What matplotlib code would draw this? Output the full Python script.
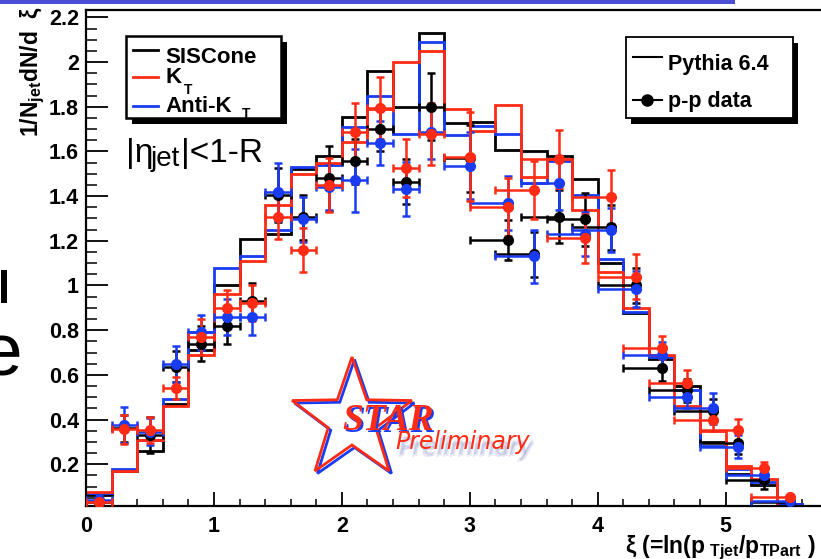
import numpy as np
import matplotlib
matplotlib.use("Agg")
import matplotlib.pyplot as plt
from matplotlib.patches import Rectangle, Polygon
from matplotlib.lines import Line2D
from matplotlib.ticker import MultipleLocator, FixedLocator

# ROOT-like look: bold Helvetica-ish everywhere
plt.rcParams['font.family'] = ['Liberation Sans', 'DejaVu Sans']
plt.rcParams['font.weight'] = 'bold'
plt.rcParams['mathtext.fontset'] = 'custom'
plt.rcParams['mathtext.rm'] = 'Liberation Sans:bold'
plt.rcParams['mathtext.it'] = 'Liberation Sans:bold'
plt.rcParams['mathtext.bf'] = 'Liberation Sans:bold'

W, H = 821, 559
RED = '#ff2b14'
BLUE = '#1a3cf0'

# Pythia histograms, bin width 0.2
BIN_EDGES = [0.0, 0.2, 0.4, 0.6, 0.8, 1.0, 1.2, 1.4, 1.6, 1.8, 2.0, 2.2, 2.4, 2.6, 2.8,
             3.0, 3.2, 3.4, 3.6, 3.8, 4.0, 4.2, 4.4, 4.6, 4.8, 5.0, 5.2, 5.4, 5.6, 5.8]
PYTHIA_SISCONE = [0.06, 0.17, 0.26, 0.47, 0.71, 1.00, 1.21, 1.23, 1.52, 1.58, 1.755, 1.96, 1.80, 2.13, 1.725,
                  1.73, 1.605, 1.60, 1.58, 1.476, 1.10, 0.878, 0.67, 0.55, 0.30, 0.155, 0.107, 0.02, 0.01]
PYTHIA_KT = [0.077, 0.17, 0.31, 0.46, 0.69, 0.96, 1.11, 1.36, 1.50, 1.55, 1.64, 1.79, 2.00, 2.05, 1.79,
             1.69, 1.81, 1.485, 1.565, 1.34, 1.06, 0.90, 0.69, 0.46, 0.35, 0.19, 0.133, 0.015, 0.01]
PYTHIA_AKT = [0.07, 0.18, 0.31, 0.49, 0.79, 1.08, 1.13, 1.25, 1.53, 1.54, 1.71, 1.85, 1.68, 2.09, 1.675,
              1.715, 1.68, 1.46, 1.557, 1.405, 1.117, 0.883, 0.68, 0.53, 0.28, 0.18, 0.12, 0.02, 0.015]

# p-p data points
PT_X = [0.1, 0.3, 0.5, 0.7, 0.9, 1.1, 1.3, 1.5, 1.7, 1.9, 2.1, 2.3, 2.5, 2.7,
        3.0, 3.3, 3.5, 3.7, 3.9, 4.1, 4.3, 4.5, 4.7, 4.9, 5.1, 5.3, 5.5]
PT_XLO = [0.1] * 14 + [0.2] + [0.3] * 12
PT_XHI = [0.1] * 14 + [0.0] * 13

DATA_SISCONE = [0.03, 0.36, 0.33, 0.637, 0.74, 0.82, 0.93, 1.405, 1.305, 1.48, 1.556, 1.70, 1.465, 1.80,
                1.57, 1.205, 1.14, 1.308, 1.296, 1.26, 1.00, 0.632, 0.53, 0.44, 0.294, 0.13, 0.03]
ERR_SISCONE = [0.02, 0.06, 0.08, 0.07, 0.08, 0.08, 0.08, 0.12, 0.10, 0.145, 0.10, 0.10, 0.10, 0.15,
               0.15, 0.09, 0.10, 0.12, 0.12, 0.10, 0.08, 0.06, 0.05, 0.05, 0.05, 0.04, 0.01]
DATA_KT = [0.03, 0.357, 0.353, 0.54, 0.77, 0.898, 0.92, 1.308, 1.159, 1.45, 1.687, 1.794, 1.526, 1.678,
           1.576, 1.352, 1.427, 1.566, 1.211, 1.395, 1.039, 0.722, 0.562, 0.398, 0.353, 0.182, 0.052]
ERR_KT = [0.02, 0.065, 0.06, 0.05, 0.08, 0.08, 0.08, 0.10, 0.10, 0.12, 0.13, 0.14, 0.13, 0.14,
          0.20, 0.13, 0.13, 0.13, 0.11, 0.12, 0.10, 0.05, 0.06, 0.05, 0.05, 0.03, 0.01]
DATA_AKT = [0.04, 0.376, 0.345, 0.649, 0.79, 0.858, 0.858, 1.42, 1.296, 1.44, 1.471, 1.638, 1.432, 1.688,
            1.536, 1.368, 1.13, 1.46, 1.23, 1.248, 0.983, 0.689, 0.502, 0.45, 0.279, 0.152, 0.037]
ERR_AKT = [0.02, 0.08, 0.06, 0.08, 0.08, 0.08, 0.08, 0.13, 0.10, 0.10, 0.14, 0.10, 0.12, 0.12,
           0.15, 0.12, 0.12, 0.12, 0.10, 0.10, 0.08, 0.06, 0.05, 0.07, 0.05, 0.04, 0.01]

Y_TICKS = [0.2, 0.4, 0.6, 0.8, 1.0, 1.2, 1.4, 1.6, 1.8, 2.0, 2.2]
Y_TICK_LABELS = ['0.2', '0.4', '0.6', '0.8', '1', '1.2', '1.4', '1.6', '1.8', '2', '2.2']
X_TICKS = [0, 1, 2, 3, 4, 5]


# pixel (from top-left) -> figure fraction
def fxy(px, py):
    return px / W, 1 - py / H


fig = plt.figure(figsize=(W / 100, H / 100), dpi=100)
ax = fig.add_axes([86 / W, 1 - 506 / H, (828 - 86) / W, (506 - 10) / H])
ax.set_xlim(0, 5.8)
ax.set_ylim(0.013, 2.233)

# histograms
for vals, col in [(PYTHIA_SISCONE, 'black'), (PYTHIA_AKT, BLUE), (PYTHIA_KT, RED)]:
    ax.stairs(vals, BIN_EDGES, baseline=None, color=col, lw=2.0, zorder=2)

# data points
for vals, errs, col in [(DATA_SISCONE, ERR_SISCONE, 'black'), (DATA_AKT, ERR_AKT, BLUE), (DATA_KT, ERR_KT, RED)]:
    ax.errorbar(PT_X, vals, xerr=[PT_XLO, PT_XHI], yerr=errs, fmt='o', color=col, ms=7,
                elinewidth=1.8, capsize=3, capthick=1.8, zorder=3)

# axes styling
for s in ['left', 'bottom', 'top']:
    ax.spines[s].set_linewidth(1.6)
ax.spines['right'].set_visible(False)
ax.yaxis.set_major_locator(FixedLocator(Y_TICKS))
ax.set_yticklabels(Y_TICK_LABELS)
ax.yaxis.set_minor_locator(MultipleLocator(0.05))
ax.xaxis.set_major_locator(FixedLocator(X_TICKS))
ax.xaxis.set_minor_locator(MultipleLocator(0.2))
ax.tick_params(axis='y', which='major', direction='in', length=16, width=1.3, pad=5, labelsize=15.5)
ax.tick_params(axis='y', which='minor', direction='in', length=8, width=1.1)
ax.tick_params(axis='x', which='major', direction='in', length=10, width=1.3, pad=7, labelsize=15.5)
ax.tick_params(axis='x', which='minor', direction='in', length=5, width=1.1)
for lab in ax.get_xticklabels() + ax.get_yticklabels():
    lab.set_fontweight('bold')

# axis titles
fig.text(*fxy(33, 6), '1/N$_{\\rm jet}$dN/d  \u03be', rotation=90, ha='center', va='top', fontsize=16.5)
fig.text(*fxy(816, 548), '\u03be (=ln(p$_{\\rm\\ Tjet}$/p$_{\\rm TPart}$ )', ha='right', va='center',
         fontsize=16.5)

# legend 1 (jet algorithms)
fig.patches.append(Rectangle(fxy(132, 124), 155 / W, 82 / H, transform=fig.transFigure,
                             facecolor='black', edgecolor='none', zorder=5))
fig.patches.append(Rectangle(fxy(126, 118), 155 / W, 82 / H, transform=fig.transFigure,
                             facecolor='white', edgecolor='black', lw=1.8, zorder=6))
for py, col in [(50, 'black'), (77, RED), (106, BLUE)]:
    fig.lines.append(Line2D([133 / W, 158 / W], [1 - py / H] * 2, transform=fig.transFigure,
                            color=col, lw=2, zorder=7))
fig.text(*fxy(165, 63), 'SISCone', ha='left', va='baseline', fontsize=16, zorder=7)
fig.text(*fxy(165, 83), 'K', ha='left', va='baseline', fontsize=16, zorder=7)
fig.text(*fxy(184, 94), 'T', ha='left', va='baseline', fontsize=10, zorder=7)
fig.text(*fxy(165, 112), 'Anti-K', ha='left', va='baseline', fontsize=16, zorder=7)
fig.text(*fxy(246, 118), 'T', ha='center', va='baseline', fontsize=10, zorder=7)

# legend 2 (MC / data)
fig.patches.append(Rectangle(fxy(631, 124), 167 / W, 81 / H, transform=fig.transFigure,
                             facecolor='black', edgecolor='none', zorder=5))
fig.patches.append(Rectangle(fxy(626, 118), 167 / W, 81 / H, transform=fig.transFigure,
                             facecolor='white', edgecolor='black', lw=1.3, zorder=6))
fig.lines.append(Line2D([633 / W, 662 / W], [1 - 57 / H] * 2, transform=fig.transFigure,
                        color='black', lw=1.5, zorder=7))
fig.lines.append(Line2D([633 / W, 662 / W], [1 - 100 / H] * 2, transform=fig.transFigure,
                        color='black', lw=1.5, zorder=7))
fig.lines.append(Line2D([647 / W], [1 - 100 / H], transform=fig.transFigure, marker='o',
                        ms=8, color='black', zorder=7))
fig.text(*fxy(668, 70), 'Pythia 6.4', ha='left', va='baseline', fontsize=15.5, zorder=7)
fig.text(*fxy(668, 107), 'p-p data', ha='left', va='baseline', fontsize=15.5, zorder=7)

# cut annotation |eta_jet|<1-R (regular weight, built from pieces)
fig.text(*fxy(126, 162), '|\u03b7', ha='left', va='baseline', fontsize=24, fontweight='normal')
fig.text(*fxy(151, 166), 'jet', ha='left', va='baseline', fontsize=20, fontweight='normal')
fig.text(*fxy(181, 162), '|<1-R', ha='left', va='baseline', fontsize=24, fontweight='normal')

# STAR Preliminary logo
ang = np.pi / 2 + np.arange(10) * np.pi / 5
rad = np.where(np.arange(10) % 2 == 0, 63, 25)
for dx, col in [(2.5, BLUE), (0, RED)]:
    pts = [fxy(352 + dx + r * np.cos(a), 420 + dx - r * np.sin(a)) for a, r in zip(ang, rad)]
    fig.patches.append(Polygon(pts, closed=True, fill=False, edgecolor=col, lw=2.0,
                               transform=fig.transFigure, zorder=4))
fig.text(*fxy(344, 432), 'STAR', family='Liberation Serif', style='italic', fontweight='bold',
         fontsize=27, color=BLUE, zorder=4)
fig.text(*fxy(342, 430), 'STAR', family='Liberation Serif', style='italic', fontweight='bold',
         fontsize=27, color=RED, zorder=4)
for ox, oy in [(3, 6), (5, 7), (2, 8), (4, 5)]:
    fig.text(*fxy(395 + ox, 449 + oy), 'Preliminary', family='DejaVu Sans', style='italic',
             fontweight='normal', fontsize=17, color='#6870b8', alpha=0.15, zorder=4)
fig.text(*fxy(395, 449), 'Preliminary', family='DejaVu Sans', style='italic',
         fontweight='normal', fontsize=17, color=RED, zorder=4)

# slide decorations around the chart
fig.patches.append(Rectangle(fxy(0, 4), 735 / W, 4 / H, transform=fig.transFigure,
                             facecolor='#4b4fd6', edgecolor='none'))
fig.text(*fxy(22, 376), 'e', ha='right', va='baseline', fontsize=54, fontweight='normal')
fig.patches.append(Rectangle(fxy(1, 303), 6 / W, 33 / H, transform=fig.transFigure,
                             facecolor='black', edgecolor='none'))

fig.savefig('out.png', dpi=100)
